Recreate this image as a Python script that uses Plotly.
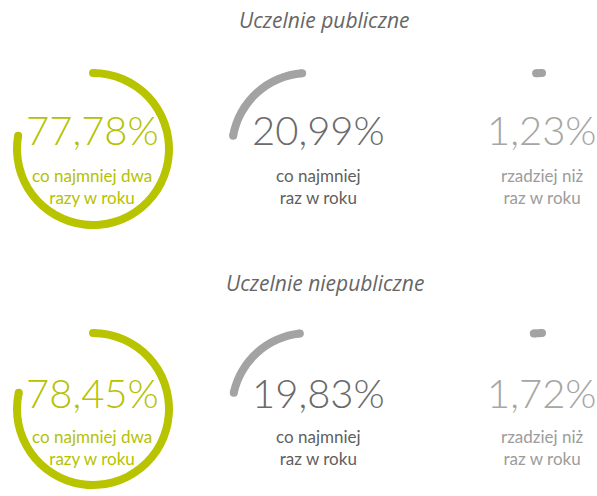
import plotly.graph_objects as go

W, H = 597, 496

# ---- data ----
groups = ["Uczelnie publiczne", "Uczelnie niepubliczne"]
categories = ["co najmniej dwa<br>razy w roku", "co najmniej<br>raz w roku", "rzadziej niż<br>raz w roku"]
publiczne = [77.78, 20.99, 1.23]
niepubliczne = [78.45, 19.83, 1.72]
series = [publiczne, niepubliczne]

# ---- styles ----
arc_colors = ["#b9c400", "#a3a3a3", "#a3a3a3"]
num_colors = ["#b5c200", "#6a6a6a", "#a6a6a6"]
label_colors = ["#b5c200", "#606060", "#9c9c9c"]

col_cx = [93, 308, 542]
row_cy = [149, 409]
num_x = [92, 318, 542]
R_PX = 76.0
RMAX = 1.1
THICK = 8.0
t = THICK / 2 / R_PX
RD = R_PX * RMAX

fig = go.Figure()
layout_polars = {}
annotations = []
k = 0
for i, vals in enumerate(series):
    cy = row_cy[i]
    start = 0.0
    for j, v in enumerate(vals):
        k += 1
        name = "polar" if k == 1 else f"polar{k}"
        cx = col_cx[j]
        th0 = start * 3.6
        th1 = (start + v) * 3.6
        fig.add_trace(go.Barpolar(
            r=[2 * t], base=[1 - t], theta=[(th0 + th1) / 2], width=[th1 - th0],
            marker=dict(color=arc_colors[j], line=dict(width=0)),
            subplot=name, showlegend=False, hoverinfo="skip"))
        fig.add_trace(go.Scatterpolar(
            r=[1, 1], theta=[th0, th1], mode="markers",
            marker=dict(size=THICK, color=arc_colors[j], line=dict(width=0)),
            cliponaxis=False, subplot=name, showlegend=False, hoverinfo="skip"))
        if j == 0:
            sector = [0, 360]
            x0, x1 = cx - RD, cx + RD
            y0, y1 = cy - RD, cy + RD
        else:
            sector = [90, 180]
            x0, x1 = cx - RD, cx
            y0, y1 = cy - RD, cy
        layout_polars[name] = dict(
            domain=dict(x=[x0 / W, x1 / W], y=[1 - y1 / H, 1 - y0 / H]),
            sector=sector,
            bgcolor="rgba(0,0,0,0)",
            radialaxis=dict(visible=False, range=[0, RMAX]),
            angularaxis=dict(visible=False, rotation=90, direction="clockwise"),
        )
        start += v

        # number
        ny = (130 if i == 0 else 393)
        annotations.append(dict(
            x=num_x[j] / W, y=1 - ny / H, xref="paper", yref="paper",
            text=f"{v:.2f}".replace(".", ",") + "%", showarrow=False,
            xanchor="center", yanchor="middle",
            font=dict(family="Lato", weight=300, size=40, color=num_colors[j])))
        # two-line label
        ly = 187 if i == 0 else 447
        annotations.append(dict(
            x=num_x[j] / W, y=1 - ly / H, xref="paper", yref="paper",
            text=categories[j], showarrow=False, xanchor="center", yanchor="middle",
            align="center",
            font=dict(family="Lato", size=17, color=label_colors[j])))

title_y = [20, 283]
for i, g in enumerate(groups):
    annotations.append(dict(
        x=325 / W, y=1 - title_y[i] / H, xref="paper", yref="paper",
        text=g, showarrow=False, xanchor="center", yanchor="middle",
        font=dict(family="Open Sans", style="italic", size=21, color="#666666")))

fig.update_layout(
    width=W, height=H,
    margin=dict(l=0, r=0, t=0, b=0),
    paper_bgcolor="white", plot_bgcolor="white",
    annotations=annotations,
    **layout_polars,
)

fig.write_html(
    "out.html",
    config={"displayModeBar": False},
    post_script="document.body.style.margin='0';document.body.style.overflow='hidden';",
)
